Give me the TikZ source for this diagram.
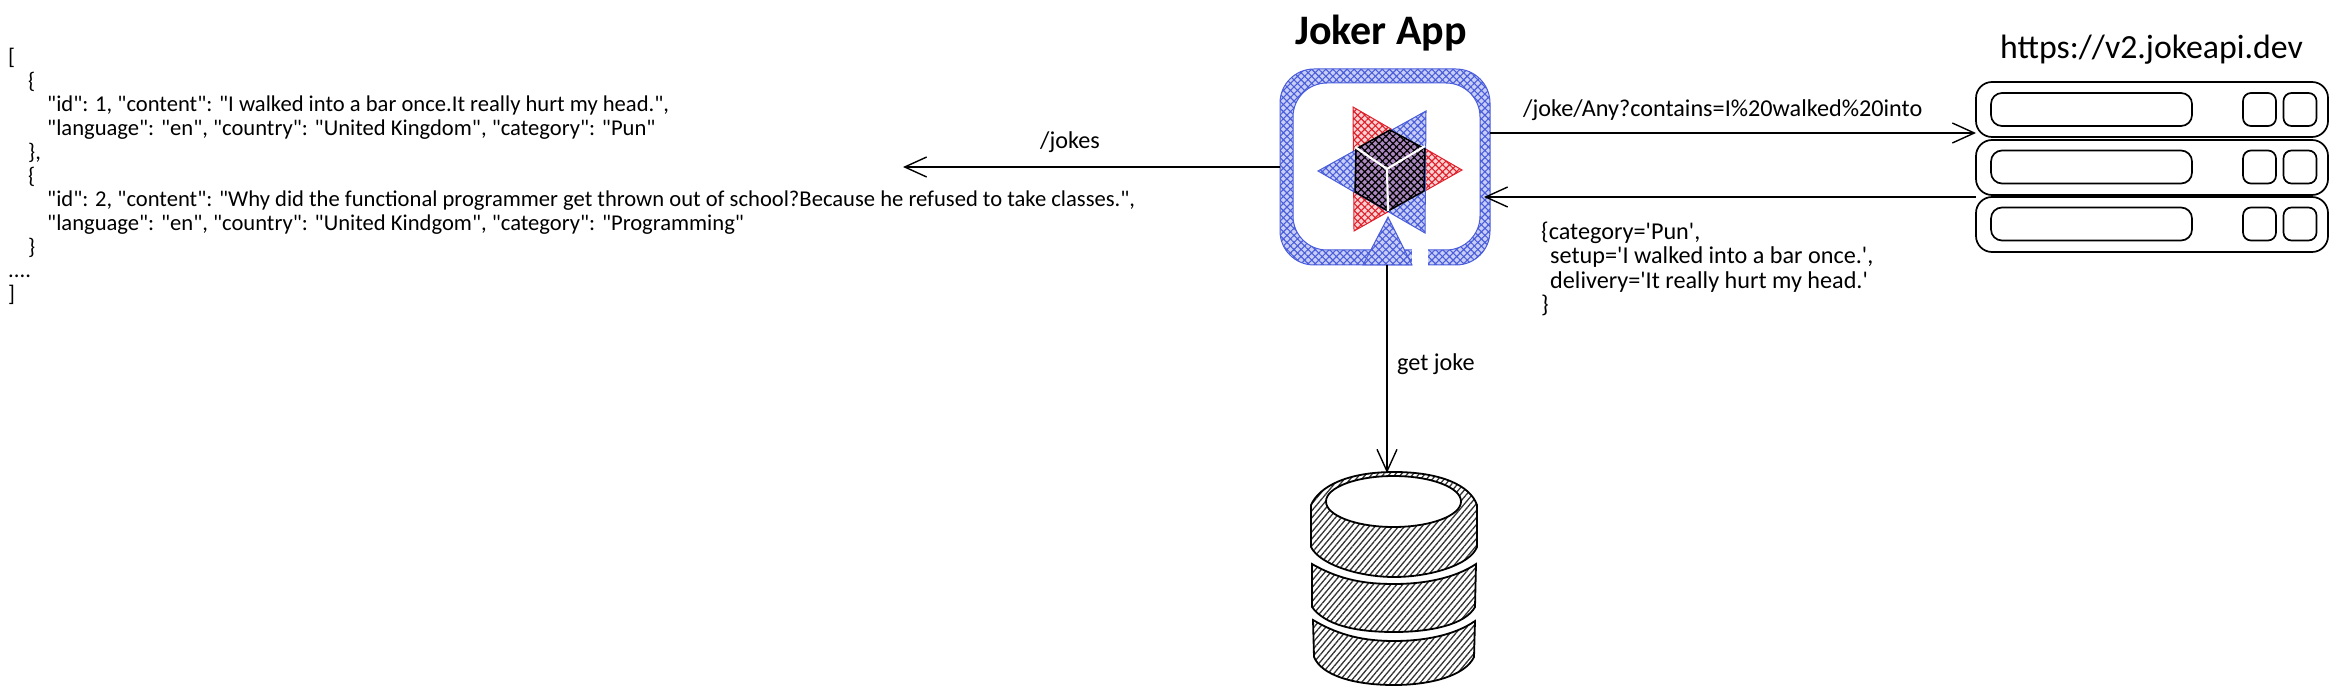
\documentclass[tikz,border=0pt]{standalone}
\usepackage{fontspec}
\usepackage{tikz}
\usetikzlibrary{positioning,patterns.meta,arrows.meta}
\newfontfamily\sketchfont{Carlito}
\newcommand{\listtext}{\sketchfont\fontsize{22.6}{23.7}\selectfont}
\newcommand{\smalltext}{\sketchfont\fontsize{24.2}{24.3}\selectfont}
\newcommand{\bigtext}{\sketchfont\fontsize{33.8}{38}\selectfont}
\newcommand{\apptext}{\sketchfont\bfseries\fontsize{42}{44}\selectfont}
\definecolor{logoblue}{HTML}{4A5DDB}
\definecolor{logored}{HTML}{E0202A}
\tikzstyle{label} = [font=\smalltext, inner sep=0pt, anchor=west]
\tikzstyle{title} = [font=\bigtext, inner sep=0pt, anchor=west]
\tikzstyle{flow} = [draw, line width=1.4pt, -{Straight Barb[length=22pt,width=20pt,line width=1.4pt]}]
\tikzstyle{slab} = [draw, line width=1.7pt, inner sep=0pt, outer sep=0pt, minimum width=352pt, minimum height=55pt, rounded corners=16pt]
\tikzstyle{bar} = [draw, line width=1.7pt, inner sep=0pt, outer sep=0pt, minimum width=201pt, minimum height=33pt, rounded corners=11pt]
\tikzstyle{knob} = [draw, line width=1.7pt, inner sep=0pt, outer sep=0pt, minimum width=33pt, minimum height=33pt, rounded corners=8pt]
\tikzstyle{bluehatch} = [draw=logoblue, line width=1pt, even odd rule, preaction={fill=logoblue!30, even odd rule}, pattern={Hatch[angle=45,distance=5pt,line width=1.1pt]}, pattern color=logoblue]
\tikzstyle{redhatch} = [draw=logored, line width=1pt, preaction={fill=logored!20}, pattern={Hatch[angle=45,distance=5pt,line width=1.1pt]}, pattern color=logored]
\tikzstyle{darkhatch} = [draw=black, line width=1.5pt, preaction={fill=logored!35!logoblue!65}, pattern={Hatch[angle=45,distance=5pt,line width=1.2pt]}, pattern color=black]
\tikzstyle{dbhatch} = [draw=black, line width=1.8pt, even odd rule, pattern={Lines[angle=50,distance=4.5pt,line width=1.3pt]}, pattern color=black!80]
\begin{document}
\begin{tikzpicture}[x=1pt,y=-1pt]
	\useasboundingbox (0,0) rectangle (2338,695);
	% text on the left
	\node[label, font=\listtext, anchor=north west, align=left] (jokelist) at (8,48) {%
		[\\
		\hspace{20pt}\{\\
		\hspace{39pt}"id": 1, "content": "I walked into a bar once.It really hurt my head.",\\
		\hspace{39pt}"language": "en", "country": "United Kingdom", "category": "Pun"\\
		\hspace{20pt}\},\\
		\hspace{20pt}\{\\
		\hspace{39pt}"id": 2, "content": "Why did the functional programmer get thrown out of school?Because he refused to take classes.",\\
		\hspace{39pt}"language": "en", "country": "United Kindgom", "category": "Programming"\\
		\hspace{20pt}\}\\
		....\\
		]};
	% app logo
	\node[inner sep=0pt, outer sep=0pt, minimum width=210pt, minimum height=196pt] (app) at (1385,167) {};
	\node[title, font=\apptext] (apptitle) at (1295,33) {Joker App};
	\path[bluehatch, rounded corners=34pt] (1280,69) rectangle (1490,265) (1293,83) rectangle (1480,250);
	\fill[white] (1412,245) rectangle (1428,270);
	\path[bluehatch] (1388,217) -- (1412,265) -- (1363,265) -- cycle;
	\path[redhatch] (1353,107) -- (1462,170) -- (1354,231) -- cycle;
	\path[bluehatch] (1426,111) -- (1318,171) -- (1425,233) -- cycle;
	\path[darkhatch] (1390,130) -- (1425,149) -- (1424,191) -- (1388,211) -- (1355,192) -- (1356,149) -- cycle;
	\draw[white, line width=2.2pt] (1355,147) -- (1387,169) -- (1425,146) (1387,169) -- (1388,211);
	% api servers
	\node[title] (apititle) at (2000,50) {https://v2.jokeapi.dev};
	\node[slab] (slabone) at (2152,109.5) {};
	\node[slab] (slabtwo) at (2152,167.5) {};
	\node[slab] (slabthree) at (2152,224.5) {};
	\node[bar] (barone) at (2091.5,109.5) {};
	\node[bar] (bartwo) at (2091.5,167) {};
	\node[bar] (barthree) at (2091.5,224) {};
	\node[knob] (knoboneA) at (2259.5,109.5) {};
	\node[knob] (knoboneB) at (2300,109.5) {};
	\node[knob] (knobtwoA) at (2259.5,167) {};
	\node[knob] (knobtwoB) at (2300,167) {};
	\node[knob] (knobthreeA) at (2259.5,224) {};
	\node[knob] (knobthreeB) at (2300,224) {};
	% database
	\coordinate (dbtop) at (1387,473);
	\path[dbhatch] (1311,505) -- (1311,547) .. controls (1320,565) and (1360,577) .. (1394,577) .. controls (1430,577) and (1470,565) .. (1477,547) -- (1477,505) .. controls (1470,485) and (1440,472) .. (1394,472) .. controls (1350,472) and (1320,485) .. (1311,505) -- cycle (1393.5,501.5) ellipse [x radius=67.5, y radius=25.5];
	\path[dbhatch] (1312,564) .. controls (1340,580) and (1365,584) .. (1394,584) .. controls (1425,584) and (1455,578) .. (1476,564) -- (1475,607) .. controls (1465,625) and (1430,632) .. (1394,632) .. controls (1355,632) and (1325,625) .. (1312,607) -- cycle;
	\path[dbhatch] (1313,620) .. controls (1340,636) and (1365,641) .. (1394,641) .. controls (1425,641) and (1455,635) .. (1475,621) -- (1474,657) .. controls (1465,676) and (1430,685) .. (1394,685) .. controls (1355,685) and (1322,676) .. (1314,657) -- cycle;
	% connectors
	\coordinate (jokesend) at (903,167);
	\draw[flow] (app.west) -- (jokesend);
	\node[label] (jokeslabel) at (1040,142) {/jokes};
	\draw[flow] ([yshift=34pt]app.east) -- ([yshift=4pt]slabone.south west);
	\node[label] (querylabel) at (1523,110) {/joke/Any?contains=I\%20walked\%20into};
	\draw[flow] ([yshift=-2pt]slabtwo.south west) -- ([xshift=-6pt,yshift=-30pt]app.east);
	\node[label, anchor=north west, align=left] (answerlabel) at (1541,222) {%
		\{category='Pun',\\
		\hspace{9pt}setup='I walked into a bar once.',\\
		\hspace{9pt}delivery='It really hurt my head.'\\
		\}};
	\draw[flow] ([xshift=2pt]app.south) -- (dbtop);
	\node[label] (getlabel) at (1397,364) {get joke};
\end{tikzpicture}
\end{document}
